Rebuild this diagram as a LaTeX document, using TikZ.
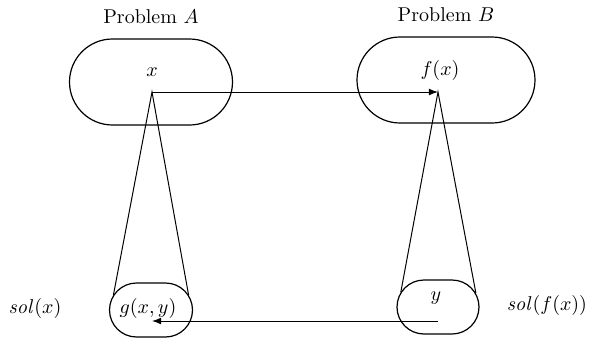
\documentclass[tikz,border=0pt]{standalone}
\usepackage{amsmath}
\usepackage{tikz}
\usetikzlibrary{arrows.meta,positioning,shapes.misc}
\tikzset{
  region/.style={draw,shape=rounded rectangle,line width=0.6pt,inner sep=0pt},
  bigregion/.style={region,minimum height=43pt},
  smallregion/.style={region,minimum height=27pt},
  map/.style={-{Latex[length=1.6mm,width=1.2mm]},line width=0.5pt},
  cone/.style={line width=0.5pt},
  lbl/.style={inner sep=1pt}
}

\begin{document}
\begin{tikzpicture}[x=0.5pt,y=0.5pt]
  \useasboundingbox (0,0) rectangle (590,339);
  % instances of the two problems
  \node[bigregion,minimum width=81.5pt] (probA) at (151,257) {};
  \node[bigregion,minimum width=89pt] (probB) at (446,259) {};
  \node[lbl,above=6pt of probA] (nameA) {Problem $A$};
  \node[lbl,above=6pt of probB] (nameB) {Problem $B$};
  \node[lbl] (inA) at (152,267) {$x$};
  \node[lbl] (inB) at (440,269) {$f(x)$};
  % solution sets
  \node[smallregion,minimum width=41.5pt] (solA) at (151,29) {};
  \node[smallregion,minimum width=41pt] (solB) at (438,32) {};
  \node[lbl] (outA) at (148,31) {$g(x,y)$};
  \node[lbl] (outB) at (436,41) {$y$};
  \node[lbl] (setA) at (35,31) {$\mathit{sol}(x)$};
  \node[lbl] (setB) at (547,34) {$\mathit{sol}(f(x))$};

  \coordinate (xa) at (152,247);
  \coordinate (fb) at (438,247);
  \coordinate (yb) at (438,18);
  \coordinate (ga) at (152,18);

  \draw[cone] (solA.158) -- (xa) -- (solA.22);
  \draw[cone] (solB.158) -- (fb) -- (solB.20);
  \draw[map] (xa) -- (fb);
  \draw[map] (yb) -- (ga);
\end{tikzpicture}
\end{document}
